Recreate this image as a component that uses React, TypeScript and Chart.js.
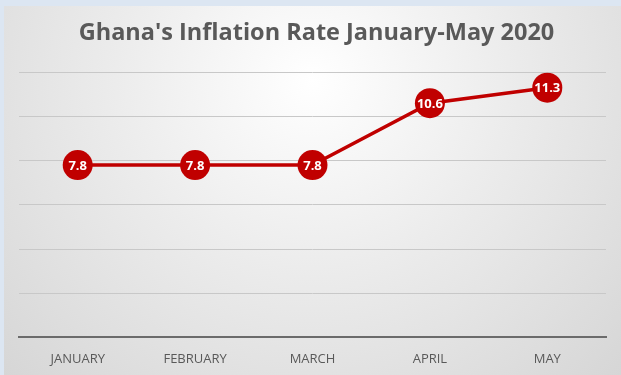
import React, { useEffect, useRef } from "react";
import { Chart, registerables } from "chart.js";

Chart.register(...registerables);

const categories = ["JANUARY", "FEBRUARY", "MARCH", "APRIL", "MAY"];
const inflationValues = [7.8, 7.8, 7.8, 10.6, 11.3];
const titleText = "Ghana's Inflation Rate January-May 2020";

const labelPlugin = {
  id: "pointLabels",
  afterDatasetsDraw(chart: any) {
    const ctx = chart.ctx;
    const meta = chart.getDatasetMeta(0);
    const data = chart.data.datasets[0].data;
    ctx.save();
    ctx.fillStyle = "#ffffff";
    ctx.font = "bold 13px 'Open Sans', sans-serif";
    ctx.textAlign = "center";
    ctx.textBaseline = "middle";
    meta.data.forEach((pt: any, i: number) => {
      ctx.fillText(String(data[i]), pt.x, pt.y + 1);
    });
    ctx.restore();
  },
};

export default function App() {
  const ref = useRef<HTMLCanvasElement>(null);
  useEffect(() => {
    document.body.style.margin = "0";
    const chart = new Chart(ref.current!, {
      type: "line",
      data: {
        labels: categories,
        datasets: [
          {
            data: inflationValues,
            borderColor: "#c00000",
            backgroundColor: "#c00000",
            borderWidth: 3.5,
            pointRadius: 15,
            pointBackgroundColor: "#c00000",
            pointBorderColor: "#c00000",
            pointBorderWidth: 0,
            tension: 0,
          },
        ],
      },
      options: {
        animation: false,
        responsive: false,
        layout: { padding: { left: 14, right: 6, top: 9, bottom: 2 } },
        plugins: {
          legend: { display: false },
          tooltip: { enabled: false },
          title: {
            display: true,
            text: titleText,
            color: "#595959",
            font: { family: "'Open Sans', sans-serif", size: 23.5, weight: "bold" },
            padding: { top: 4, bottom: 25 },
          },
        },
        scales: {
          x: {
            offset: true,
            grid: { display: false },
            border: { display: true, color: "#6b6b6b", width: 2 },
            ticks: {
              color: "#595959",
              font: { family: "'Open Sans', sans-serif", size: 13 },
              padding: 6,
            },
          },
          y: {
            min: 0,
            max: 12,
            ticks: { display: false, stepSize: 2 },
            grid: { color: "#c8c8c8", lineWidth: 1, drawTicks: false },
            border: { display: false },
          },
        },
      },
      plugins: [labelPlugin],
    });
    return () => chart.destroy();
  }, []);
  return (
    <div
      style={{
        position: "fixed",
        left: 0,
        top: 0,
        width: 621,
        height: 375,
        background: "#dce6f2",
      }}
    >
      <div
        style={{
          position: "absolute",
          left: 4,
          top: 6,
          width: 617,
          height: 369,
          background:
            "radial-gradient(ellipse at 50% 20%, #ffffff 0%, #ececec 45%, #d6d6d6 100%)",
        }}
      >
        <canvas ref={ref} width={617} height={369} />
      </div>
    </div>
  );
}
